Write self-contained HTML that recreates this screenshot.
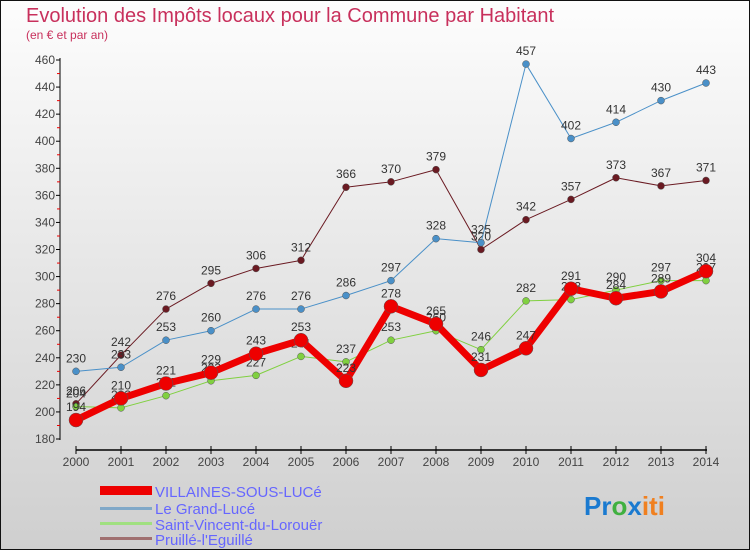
<!DOCTYPE html>
<html><head><meta charset="utf-8"><style>
html,body{margin:0;padding:0;width:750px;height:550px;overflow:hidden;}
svg text{font-family:"Liberation Sans","DejaVu Sans",sans-serif;}
</style></head><body>
<svg width="750" height="550" xmlns="http://www.w3.org/2000/svg">
<defs><linearGradient id="bg" x1="0" y1="0" x2="0" y2="1"><stop offset="0" stop-color="#fdfdfd"/><stop offset="1" stop-color="#cfcfcf"/></linearGradient></defs>
<rect x="0.5" y="0.5" width="749" height="549" fill="url(#bg)" stroke="#111"/>
<text x="26" y="22" font-size="20" fill="#c8305c">Evolution des Impôts locaux pour la Commune par Habitant</text>
<text x="26" y="39" font-size="12" fill="#c8305c">(en € et par an)</text>
<g id="axes"></g><g id="series"></g>
<g>
<rect x="100" y="486" width="52" height="9" fill="#e00"/>
<text x="155" y="497" font-size="15" fill="#6666ff">VILLAINES-SOUS-LUCé</text>
<rect x="100" y="507" width="52" height="3" fill="#80a8c8"/>
<text x="155" y="514" font-size="15" fill="#6666ff">Le Grand-Lucé</text>
<rect x="100" y="522" width="52" height="3" fill="#a0e080"/>
<text x="155" y="530" font-size="15" fill="#6666ff">Saint-Vincent-du-Lorouër</text>
<rect x="100" y="537" width="52" height="3" fill="#a07070"/>
<text x="155" y="545" font-size="15" fill="#6666ff">Pruillé-l'Eguillé</text>
</g>
<text x="584" y="515" font-size="26" font-weight="bold"><tspan fill="#1a7ad0">Pr</tspan><tspan fill="#40b040">o</tspan><tspan fill="#1a7ad0">x</tspan><tspan fill="#f08020">iti</tspan></text>
</svg>
<script>
const years=[2000,2001,2002,2003,2004,2005,2006,2007,2008,2009,2010,2011,2012,2013,2014];
const yTicks=[180,200,220,240,260,280,300,320,340,360,380,400,420,440,460];
const villaines=[194,210,221,229,243,253,223,278,265,231,247,291,284,289,304];
const grandLuce=[230,233,253,260,276,276,286,297,328,325,457,402,414,430,443];
const saintVincent=[204,203,212,223,227,241,237,253,260,246,282,283,290,297,297];
const pruille=[206,242,276,295,306,312,366,370,379,320,342,357,373,367,371];
const NS="http://www.w3.org/2000/svg";
const xs=i=>76+i*45;
const ys=v=>60+(460-v)*(379/280);
function mk(tag,attrs,parent){const e=document.createElementNS(NS,tag);for(const k in attrs)e.setAttribute(k,attrs[k]);parent.appendChild(e);return e;}
const ax=document.getElementById('axes');
let a=mk('line',{x1:60,y1:58,x2:60,y2:440,stroke:'#000'},ax);


a=mk('line',{x1:76,y1:450,x2:707,y2:450,stroke:'#000','stroke-width':1.5},ax);


yTicks.forEach((t,i)=>{const y=ys(t);
 mk('line',{x1:56,y1:y,x2:60,y2:y,stroke:'#000'},ax);
 if(i<yTicks.length-1)mk('line',{x1:57,y1:y-13.5,x2:60,y2:y-13.5,stroke:'#e00'},ax);
 const tx=mk('text',{x:55,y:y+4,'font-size':12,fill:'#444','text-anchor':'end'},ax);tx.textContent=t;
 
 });
years.forEach((yr,i)=>{const x=xs(i);
 mk('line',{x1:x,y1:446,x2:x,y2:454,stroke:'#000'},ax);
 const tx=mk('text',{x:x,y:466,'font-size':12,fill:'#444','text-anchor':'middle'},ax);tx.textContent=yr;
 
 });
const sg=document.getElementById('series');
function draw(vals,color,w,r,name){
 const g=mk('g',{},sg);
 
 
 mk('polyline',{points:vals.map((v,i)=>xs(i)+','+ys(v)).join(' '),fill:'none',stroke:color,'stroke-width':w,'stroke-linejoin':'round'},g);
 vals.forEach((v,i)=>{const c=mk('circle',{cx:xs(i),cy:ys(v),r:r,fill:color,stroke:'#555','stroke-width':0.5},g);
  
  
  const t=mk('text',{x:xs(i),y:ys(v)-9,'font-size':12,fill:'#333','text-anchor':'middle'},g);t.textContent=v;});
}
draw(pruille,'#6a1a22',1,3.5,'series-pruille');
draw(grandLuce,'#4a90c8',1,3.5,'series-grand-luce');
draw(saintVincent,'#80d040',1,3.5,'series-saint-vincent');
draw(villaines,'#ee0000',7,7,'series-villaines');
</script>
</body></html>
